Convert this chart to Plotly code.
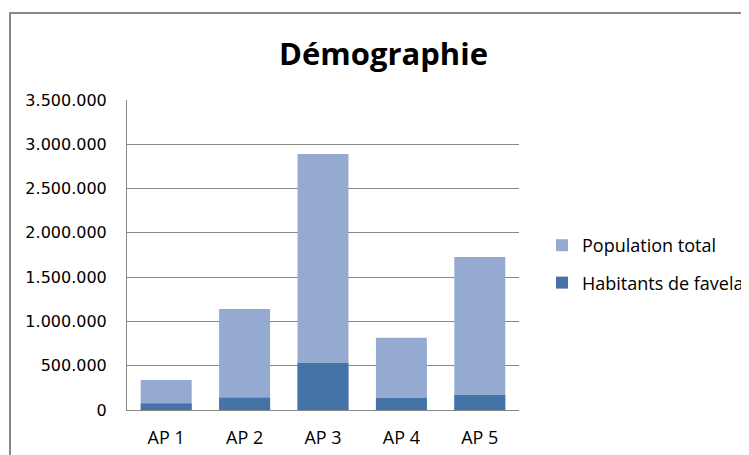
import plotly.graph_objects as go

categories = ["AP 1", "AP 2", "AP 3", "AP 4", "AP 5"]
population_total = [340000, 1140000, 2890000, 815000, 1727000]
habitants_favelas = [72000, 139000, 531000, 136000, 170000]
y_ticks = [0, 500000, 1000000, 1500000, 2000000, 2500000, 3000000, 3500000]

# page body has an 8px margin; figure sized to fill the rest of the window
W, H = 741, 447
L, R, T, B = 119, 511, 92, 402

FONT = "Open Sans"
fig = go.Figure()
fig.add_trace(go.Bar(x=categories, y=population_total, name="Population total",
                     marker=dict(color="#94AAD0", line=dict(width=0)),
                     legendgroup="a"))
fig.add_trace(go.Bar(x=categories, y=habitants_favelas, name="Habitants de favelas",
                     marker=dict(color="#4573A8", line=dict(width=0)),
                     legendgroup="b"))

fig.update_layout(
    width=W, height=H,
    margin=dict(l=L, r=W - R, t=T, b=H - B, pad=0, autoexpand=False),
    barmode="overlay", bargap=0.35,
    paper_bgcolor="white", plot_bgcolor="white",
    separators=",.",
    font=dict(family=FONT, size=18, color="black"),
    title=dict(text="<b>Démographie</b>", x=375.5 / W, xanchor="center",
               y=1 - 46 / H, yanchor="middle",
               font=dict(family=FONT, size=31, color="black")),
    legend=dict(xref="container", yref="container", x=534 / W, y=1 - 219 / H,
                xanchor="left", yanchor="top", tracegroupgap=11,
                font=dict(family=FONT, size=18), bgcolor="rgba(0,0,0,0)",
                itemwidth=30),
    xaxis=dict(showgrid=False, showline=True, linecolor="#878787", linewidth=1,
               ticks="", tickfont=dict(family=FONT, size=18), ticklabelstandoff=11,
               automargin=False),
    yaxis=dict(range=[0, 3500000], tickvals=y_ticks, tickformat=",d",
               showgrid=True, gridcolor="#878787", gridwidth=1,
               showline=True, linecolor="#878787", linewidth=1,
               zeroline=False, ticks="", ticklabelstandoff=16,
               tickfont=dict(family="DejaVu Sans", size=16), automargin=False),
    shapes=[dict(type="rect", xref="paper", yref="paper",
                 x0=(2 - L) / (R - L), x1=2.0, y0=-1.0, y1=(B - 5) / (B - T),
                 line=dict(color="#878787", width=2), layer="below")],
)

fig.write_html("out.html")
